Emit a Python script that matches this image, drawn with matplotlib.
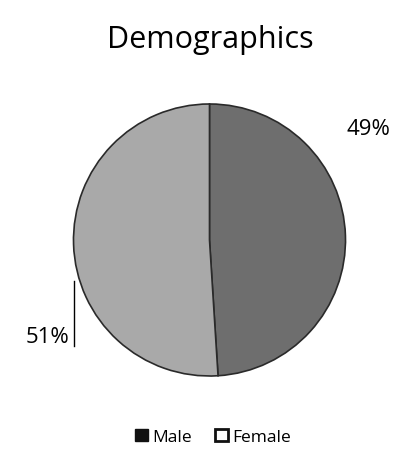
import matplotlib.pyplot as plt
from matplotlib.patches import Patch

plt.rcParams['font.family'] = ['Open Sans', 'DejaVu Sans']

labels = ["Male", "Female"]
shares = [49, 51]
colors = ["#6e6e6e", "#a9a9a9"]

fig = plt.figure(figsize=(4.03, 4.60), dpi=100)
fig.text(0.523, 0.913, "Demographics", ha="center", va="center", fontsize=22)

ax = fig.add_axes([72 / 403, 1 - 377 / 460, 275 / 403, 272 / 460])
wedges, _ = ax.pie(shares, colors=colors, startangle=90, counterclock=False,
                   radius=1, wedgeprops=dict(edgecolor="#2a2a2a", linewidth=1.2))
ax.set_xlim(-1, 1)
ax.set_ylim(-1, 1)
ax.set_aspect("equal")
ax.set_axis_off()

# percentage labels, female one with a short leader line
ax.text(1.01, 0.82, f"{shares[0]}%", ha="left", va="center", fontsize=16, clip_on=False)
ax.text(-1.03, -0.71, f"{shares[1]}%", ha="right", va="center", fontsize=16, clip_on=False)
ax.plot([-1.0, -1.0], [-0.30, -0.78], color="black", lw=1.0, clip_on=False)

handles = [Patch(facecolor="#111111", edgecolor="#111111"),
           Patch(facecolor="white", edgecolor="#111111", linewidth=2.0)]
fig.legend(handles, labels, loc="center", bbox_to_anchor=(0.528, 0.048), ncol=2,
           frameon=False, fontsize=12.5, handlelength=0.75, handleheight=0.75,
           handletextpad=0.25, columnspacing=1.3)

fig.savefig("out.png", dpi=100)
